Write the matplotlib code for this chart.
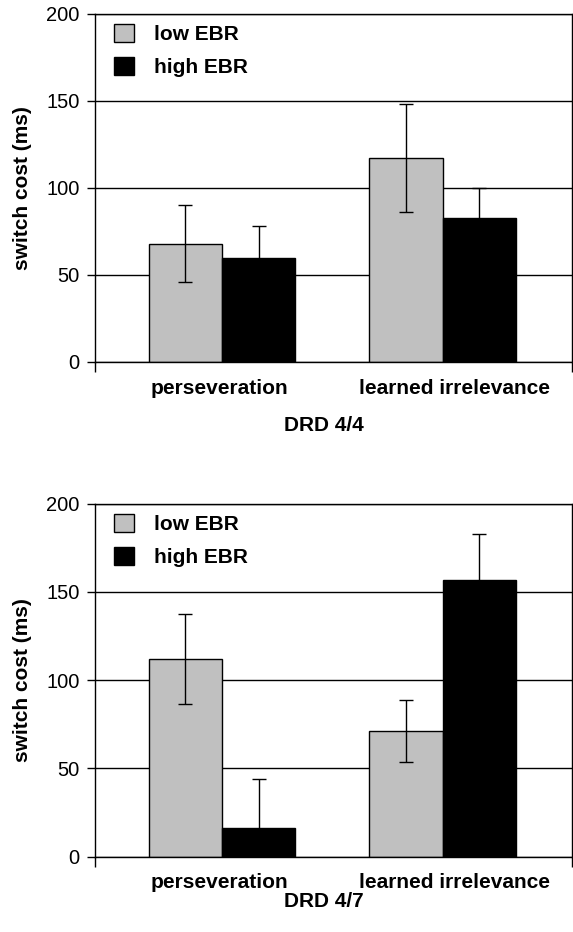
import numpy as np
import matplotlib
matplotlib.use("Agg")
import matplotlib.pyplot as plt

plt.rcParams['font.family'] = ['Liberation Sans', 'DejaVu Sans']

# data (switch cost in ms, error bars are +/- values)
categories = ["perseveration", "learned irrelevance"]
series = ["low EBR", "high EBR"]
colors = ["#c0c0c0", "#000000"]

low_44 = [68, 117]
low_44_err = [22, 31]
high_44 = [60, 83]
high_44_err = [18, 17]

low_47 = [112, 71]
low_47_err = [25.5, 17.5]
high_47 = [16, 157]
high_47_err = [28, 26]

panels = [
    ("DRD 4/4", [low_44, high_44], [low_44_err, high_44_err]),
    ("DRD 4/7", [low_47, high_47], [low_47_err, high_47_err]),
]

fig = plt.figure(figsize=(5.73, 9.32), dpi=100)
ax_top = fig.add_axes([0.1658, 0.6116, 0.8319, 0.3734])
ax_bot = fig.add_axes([0.1658, 0.0808, 0.8319, 0.3788])

group_x = np.array([0.533, 1.458])
label_x = [0.52, 1.51]
width = 0.308
xlabel_y = [-0.155, -0.10]

for k, (ax, (title, vals, errs)) in enumerate(zip([ax_top, ax_bot], panels)):
    for i in range(2):
        xs = group_x + (i - 0.5) * width
        ax.bar(xs, vals[i], width=width, color=colors[i], edgecolor="black",
               linewidth=1.0, label=series[i], zorder=2)
        ax.errorbar(xs, vals[i], yerr=errs[i], fmt="none", ecolor="black",
                    elinewidth=1.0, capsize=5, capthick=1.0, zorder=3)
    ax.set_xlim(0, 2)
    ax.set_ylim(0, 200)
    ax.set_yticks([0, 50, 100, 150, 200])
    ax.yaxis.grid(True, color="black", linewidth=1.0, zorder=0)
    ax.set_axisbelow(True)
    for s in ax.spines.values():
        s.set_linewidth(1.0)
    ax.tick_params(axis="y", direction="out", length=6, width=1.0, labelsize=14.5, pad=5)
    ax.set_xticks(label_x)
    ax.set_xticklabels(categories, fontsize=15, fontweight="bold")
    ax.tick_params(axis="x", which="major", length=0, pad=12)
    ax.set_xticks([0, 2], minor=True)
    ax.tick_params(axis="x", which="minor", direction="out", length=7, width=1.0)
    ax.set_ylabel("switch cost (ms)", fontsize=15, fontweight="bold")
    ax.yaxis.set_label_coords(-0.132, 0.5)
    ax.set_xlabel(title, fontsize=15, fontweight="bold")
    ax.xaxis.set_label_coords(0.48, xlabel_y[k])
    ax.legend(loc="upper left", bbox_to_anchor=(0.0, 1.025), frameon=False,
              prop={"weight": "bold", "size": 15},
              handlelength=0.95, handleheight=0.95, handletextpad=1.0,
              labelspacing=0.62)

fig.savefig("out.png", dpi=100)
